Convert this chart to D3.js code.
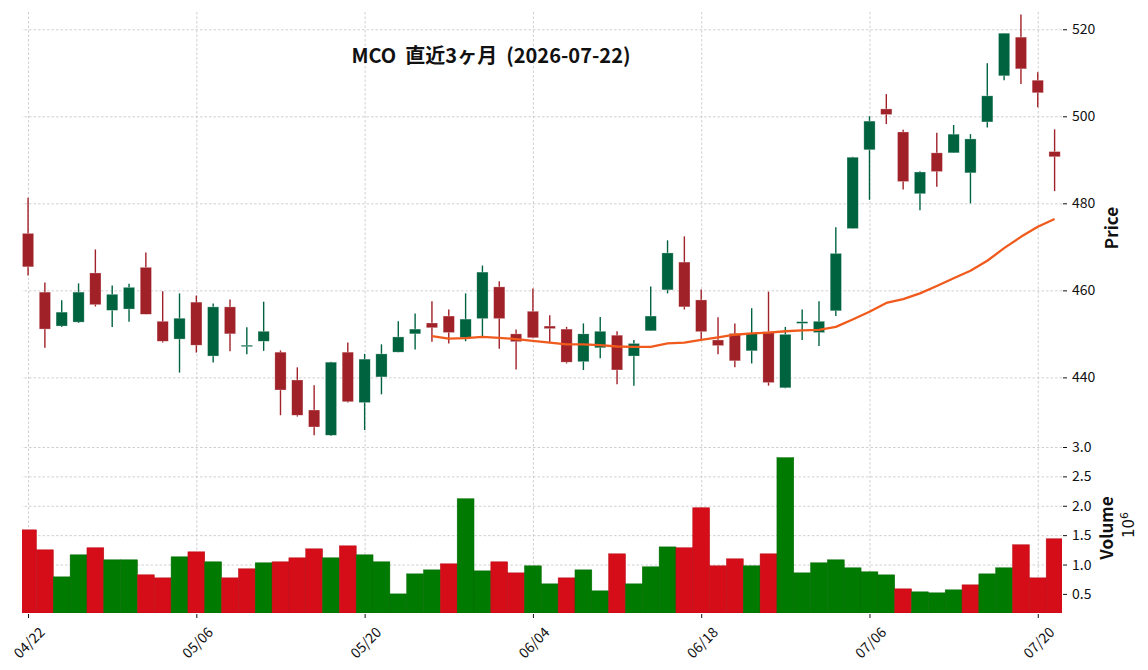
<!DOCTYPE html>
<html>
<head>
<meta charset="utf-8">
<script src="https://cdn.jsdelivr.net/npm/d3@7"></script>
<style>
  body { margin: 0; background: #fff; }
  svg { display: block; font-family: "Noto Sans CJK JP", "Noto Sans", sans-serif; }
</style>
</head>
<body>
<svg width="1148" height="670"></svg>
<script>
// trading days shown on the chart
const dates = [
  "04-22", "04-23", "04-24", "04-27", "04-28", "04-29", "04-30", "05-01", "05-04", "05-05",
  "05-06", "05-07", "05-08", "05-11", "05-12", "05-13", "05-14", "05-15", "05-18", "05-19",
  "05-20", "05-21", "05-22", "05-26", "05-27", "05-28", "05-29", "06-01", "06-02", "06-03",
  "06-04", "06-05", "06-08", "06-09", "06-10", "06-11", "06-12", "06-15", "06-16", "06-17",
  "06-18", "06-22", "06-23", "06-24", "06-25", "06-26", "06-29", "06-30", "07-01", "07-02",
  "07-06", "07-07", "07-08", "07-09", "07-10", "07-13", "07-14", "07-15", "07-16", "07-17",
  "07-20", "07-21"
];

const opens = [
  473.1, 459.6, 451.8, 452.7, 464.0, 455.4, 455.7, 465.3, 452.9, 448.8,
  457.3, 444.9, 456.2, 447.2, 448.3, 445.8, 439.4, 432.5, 426.7, 445.8,
  434.2, 440.1, 445.8, 450.0, 452.5, 454.1, 449.1, 453.5, 460.8, 450.0,
  455.2, 451.8, 451.1, 443.6, 446.8, 449.7, 444.9, 450.7, 460.1, 466.5,
  457.8, 448.6, 450.1, 446.1, 450.5, 437.6, 452.4, 450.3, 455.3, 474.2,
  492.3, 501.7, 496.4, 482.2, 491.6, 491.6, 487.0, 498.7, 509.3, 518.2,
  508.3, 491.9
];
const highs = [
  481.3, 461.8, 457.7, 461.6, 469.4, 461.1, 461.5, 468.7, 459.8, 459.3,
  458.8, 457.0, 457.9, 451.5, 457.4, 446.2, 442.3, 438.2, 443.6, 448.0,
  445.4, 447.6, 452.9, 454.7, 457.5, 455.6, 459.3, 465.7, 462.1, 451.0,
  460.4, 454.3, 451.6, 452.4, 453.9, 450.6, 448.6, 460.9, 471.5, 472.4,
  460.2, 453.8, 452.4, 455.9, 459.7, 451.6, 455.6, 457.5, 474.5, 490.7,
  500.0, 505.1, 496.9, 487.4, 496.2, 498.0, 495.9, 512.2, 519.1, 523.4,
  510.1, 497.0
];
const lows = [
  463.4, 446.8, 451.6, 452.5, 456.3, 451.6, 452.8, 454.5, 448.0, 441.1,
  445.7, 443.4, 446.0, 445.3, 446.1, 431.3, 431.0, 426.7, 426.5, 434.2,
  427.9, 436.1, 445.8, 446.4, 448.2, 447.8, 448.3, 449.3, 446.6, 441.8,
  449.0, 448.0, 443.2, 441.7, 444.4, 438.4, 438.1, 450.7, 459.3, 455.6,
  448.7, 445.3, 442.3, 443.2, 438.1, 437.5, 448.6, 447.2, 454.1, 474.2,
  480.8, 498.2, 483.2, 478.4, 483.8, 491.6, 480.0, 497.4, 508.3, 507.4,
  502.1, 482.8
];
const closes = [
  465.4, 451.1, 455.0, 459.6, 456.7, 459.1, 460.7, 454.5, 448.3, 453.6,
  447.4, 456.2, 450.0, 447.4, 450.6, 437.1, 431.3, 428.6, 443.5, 434.4,
  444.2, 445.4, 449.3, 451.1, 451.4, 450.3, 453.4, 464.2, 453.5, 448.2,
  449.1, 451.2, 443.5, 450.0, 450.6, 441.7, 447.8, 454.1, 468.6, 456.2,
  450.5, 447.3, 443.8, 450.1, 438.8, 449.9, 452.8, 452.9, 468.5, 490.6,
  498.9, 500.4, 485.0, 487.2, 487.3, 495.9, 494.8, 504.7, 519.1, 510.9,
  505.4, 490.7
];
// volume in millions of shares
const volumes = [
  1.59, 1.25, 0.79, 1.165, 1.285, 1.08, 1.08, 0.825, 0.773, 1.131,
  1.216, 1.046, 0.773, 0.927, 1.029, 1.046, 1.114, 1.267, 1.114, 1.318,
  1.165, 1.046, 0.50, 0.841, 0.909, 1.012, 2.119, 0.892, 1.046, 0.858,
  0.978, 0.671, 0.773, 0.909, 0.552, 1.182, 0.671, 0.961, 1.30, 1.285,
  1.966, 0.978, 1.097, 0.978, 1.182, 2.818, 0.858, 1.029, 1.08, 0.944,
  0.876, 0.824, 0.586, 0.535, 0.518, 0.569, 0.654, 0.841, 0.944, 1.336,
  0.773, 1.438
];
// 25-day moving average, first value sits on day index 24
const maStart = 24;
const ma25 = [
  449.5, 448.9, 449.0, 449.3, 449.1, 448.8, 448.4, 448.0, 447.6, 447.6,
  447.4, 447.1, 447.0, 447.0, 447.8, 448.0, 448.6, 449.2, 449.8, 450.1,
  450.3, 450.6, 450.8, 450.9, 451.6, 453.3, 455.1, 457.1, 458.0, 459.3,
  461.0, 462.8, 464.5, 466.8, 469.7, 472.3, 474.6, 476.4
];

const priceTicks = [440, 460, 480, 500, 520];
const volumeTicks = [0.5, 1.0, 1.5, 2.0, 2.5, 3.0];
const dateTicks = [0, 10, 20, 30, 40, 50, 60];
const title = "MCO  直近3ヶ月  (2026-07-22)";

const layout = {
  left: 22, right: 1062,
  priceTop: 11, priceBottom: 447,
  volTop: 447, volBottom: 613
};
const colors = {
  up: "#006340", down: "#a02128",
  volUp: "#007a00", volDown: "#d50d18",
  ma: "#f05a1c", grid: "#c4c4c4", text: "#111"
};

const svg = d3.select("svg");

const x = d3.scaleLinear()
  .domain([-0.36, dates.length - 0.56])
  .range([layout.left, layout.right]);
const step = x(1) - x(0);
const yPrice = d3.scaleLinear().domain([424.0, 524.2]).range([layout.priceBottom, layout.priceTop]);
const yVol = d3.scaleLinear().domain([0.175, 3.0]).range([layout.volBottom, layout.volTop]);

svg.append("clipPath").attr("id", "plotclip")
  .append("rect")
  .attr("x", layout.left).attr("y", layout.priceTop)
  .attr("width", layout.right - layout.left)
  .attr("height", layout.volBottom - layout.priceTop);

// grid lines
const gridStyle = (g) => {
  g.select(".domain").remove();
  g.selectAll("text").remove();
  g.selectAll("line")
    .attr("stroke", colors.grid)
    .attr("stroke-width", 0.8)
    .attr("stroke-dasharray", "2.5,2");
};
svg.append("g")
  .attr("transform", `translate(${layout.right},0)`)
  .call(d3.axisLeft(yPrice).tickValues(priceTicks).tickSize(layout.right - layout.left))
  .call(gridStyle);
svg.append("g")
  .attr("transform", `translate(${layout.right},0)`)
  .call(d3.axisLeft(yVol).tickValues(volumeTicks).tickSize(layout.right - layout.left))
  .call(gridStyle);
svg.append("g")
  .attr("transform", `translate(0,${layout.volBottom})`)
  .call(d3.axisTop(x).tickValues(dateTicks).tickSize(layout.volBottom - layout.priceTop))
  .call(gridStyle);

const plot = svg.append("g").attr("clip-path", "url(#plotclip)");

// volume bars, coloured by change from the previous close
const volColor = (i) => {
  const prev = i === 0 ? opens[0] : closes[i - 1];
  return closes[i] >= prev ? colors.volUp : colors.volDown;
};
plot.append("g")
  .selectAll("rect")
  .data(volumes)
  .join("rect")
  .attr("x", (d, i) => x(i) - step / 2)
  .attr("width", step)
  .attr("y", (d) => yVol(d))
  .attr("height", (d) => layout.volBottom - yVol(d))
  .attr("fill", (d, i) => volColor(i))
  .attr("stroke", (d, i) => d3.color(volColor(i)).darker(0.4))
  .attr("stroke-width", 0.5);

// candles
const candles = dates.map((d, i) => ({
  i, open: opens[i], high: highs[i], low: lows[i], close: closes[i]
}));
const candleColor = (d) => (d.close >= d.open ? colors.up : colors.down);
const bodyW = step * 0.67;

const cg = plot.append("g").selectAll("g").data(candles).join("g");
cg.append("line")
  .attr("x1", (d) => x(d.i)).attr("x2", (d) => x(d.i))
  .attr("y1", (d) => yPrice(d.high)).attr("y2", (d) => yPrice(d.low))
  .attr("stroke", candleColor)
  .attr("stroke-width", 1.4);
cg.append("rect")
  .attr("x", (d) => x(d.i) - bodyW / 2)
  .attr("width", bodyW)
  .attr("y", (d) => yPrice(Math.max(d.open, d.close)))
  .attr("height", (d) => Math.max(1.5, Math.abs(yPrice(d.open) - yPrice(d.close))))
  .attr("fill", candleColor)
  .attr("stroke", "#fff")
  .attr("stroke-opacity", 0.5)
  .attr("stroke-width", 0.6);

// moving average
plot.append("path")
  .datum(ma25)
  .attr("fill", "none")
  .attr("stroke", colors.ma)
  .attr("stroke-width", 2.3)
  .attr("stroke-linejoin", "round")
  .attr("d", d3.line()
    .x((d, k) => x(k + maStart))
    .y((d) => yPrice(d)));

// axes on the right and bottom
const axisStyle = (g) => {
  g.select(".domain").remove();
  g.selectAll("line").attr("stroke", colors.text).attr("stroke-width", 1);
  g.selectAll("text")
    .attr("fill", colors.text)
    .attr("font-size", 14)
    .attr("font-family", '"Noto Sans CJK JP", sans-serif');
};
svg.append("g")
  .attr("transform", `translate(${layout.right + 1},0)`)
  .call(d3.axisRight(yPrice).tickValues(priceTicks).tickSize(4).tickPadding(5))
  .call(axisStyle);
svg.append("g")
  .attr("transform", `translate(${layout.right + 1},0)`)
  .call(d3.axisRight(yVol).tickValues(volumeTicks).tickSize(4).tickPadding(5)
    .tickFormat(d3.format(".1f")))
  .call(axisStyle);
svg.append("g")
  .attr("transform", `translate(0,${layout.volBottom + 1})`)
  .call(d3.axisBottom(x).tickValues(dateTicks).tickSize(4)
    .tickFormat((i) => dates[i].replace("-", "/")))
  .call(axisStyle)
  .selectAll("text")
  .attr("y", 0)
  .attr("dy", null)
  .attr("dominant-baseline", "central")
  .attr("text-anchor", "middle")
  .attr("transform", "translate(0,28) rotate(-45)");

// title and axis labels
svg.append("text")
  .attr("x", 491).attr("y", 63)
  .attr("text-anchor", "middle")
  .attr("font-size", 20)
  .attr("font-weight", "bold")
  .attr("fill", colors.text)
  .style("white-space", "pre")
  .text(title);

svg.append("text")
  .attr("transform", "translate(1110,228) rotate(-90)")
  .attr("text-anchor", "middle")
  .attr("dominant-baseline", "central")
  .attr("font-size", 17)
  .attr("font-weight", "bold")
  .attr("fill", colors.text)
  .text("Price");

svg.append("text")
  .attr("transform", "translate(1105,528) rotate(-90)")
  .attr("text-anchor", "middle")
  .attr("dominant-baseline", "central")
  .attr("font-size", 17)
  .attr("font-weight", "bold")
  .attr("fill", colors.text)
  .text("Volume");

const expo = svg.append("text")
  .attr("transform", "translate(1134,525) rotate(-90)")
  .attr("text-anchor", "middle")
  .attr("font-family", '"DejaVu Sans", sans-serif')
  .attr("font-size", 15)
  .attr("fill", colors.text);
expo.append("tspan").text("10");
expo.append("tspan").attr("dy", -6).attr("font-size", 11).text("6");
</script>
</body>
</html>
